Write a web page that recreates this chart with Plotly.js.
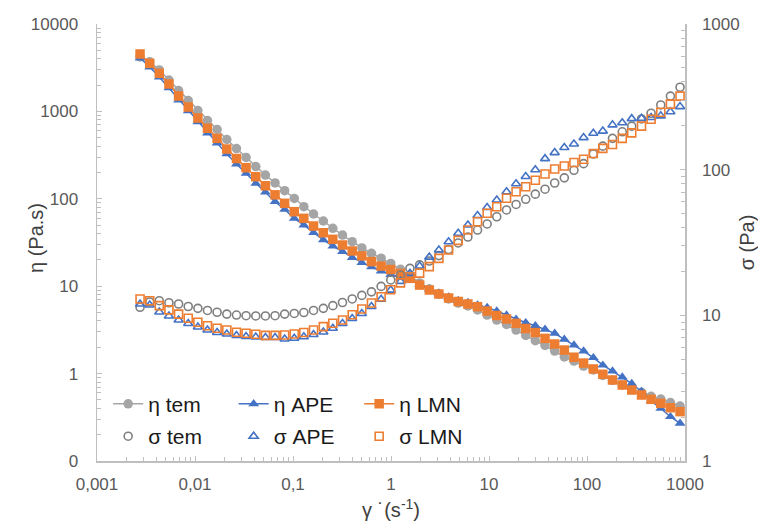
<!DOCTYPE html>
<html>
<head>
<meta charset="utf-8">
<script src="https://cdn.plot.ly/plotly-3.0.1.min.js"></script>
<style>html,body{margin:0;padding:0;background:#fff;}#chart{width:758px;height:523px;}</style>
</head>
<body>
<div id="chart"></div>
<script>
const shearRate = [0.00275,0.00345,0.00432,0.00542,0.0068,0.00853,0.0107,0.0134,0.0168,0.0211,0.0265,0.0332,0.0417,0.0523,0.0656,0.0822,0.103,0.129,0.162,0.204,0.255,0.32,0.402,0.504,0.632,0.793,0.994,1.25,1.56,1.96,2.46,3.08,3.87,4.85,6.09,7.64,9.57,12.0,15.1,18.9,23.7,29.7,37.3,46.8,58.7,73.6,92.3,116,145,182,229,286,360,451,566,710,890];

const etaTem = [4200,3700,2978,2287,1734,1333,1024,787,621,477,376,297,234,187,152,124,101,81.2,67.0,55.7,46.0,38.5,32.3,27.4,23.8,20.9,18.2,15.6,13.1,10.9,9.29,8.14,7.14,6.42,5.94,5.34,4.68,4.10,3.65,3.15,2.73,2.38,2.10,1.81,1.55,1.39,1.22,1.10,0.951,0.838,0.741,0.667,0.611,0.550,0.512,0.467,0.426];
const etaAPE = [4083,3221,2475,1853,1350,1011,757,566,435,326,250,195,150,119,92.6,75.5,59.8,50.1,40.9,33.8,28.8,24.8,21.3,18.6,16.6,14.9,13.6,12.6,11.8,10.5,9.29,8.36,7.52,6.86,6.51,6.10,5.71,5.20,4.68,4.18,3.82,3.53,3.21,2.89,2.47,2.12,1.81,1.52,1.25,1.07,0.914,0.770,0.624,0.486,0.399,0.321,0.270];
const etaLMN = [4540,3550,2730,2060,1500,1122,840,641,492,371,289,227,179,141,111,88.8,71.2,59.8,48.8,40.9,34.4,29.6,25.3,22.2,19.1,17.0,15.5,14.0,12.3,10.3,9.05,8.14,7.33,6.68,6.26,5.83,5.20,4.62,4.22,3.76,3.28,2.95,2.53,2.18,1.86,1.54,1.32,1.13,0.982,0.845,0.741,0.649,0.569,0.508,0.457,0.407,0.367];

const sigmaTem = [11.36,12.35,12.6,12.2,11.96,11.5,11.17,10.8,10.5,10.2,10.05,9.94,9.9,9.9,9.94,10.2,10.3,10.45,10.8,11.17,11.65,12.25,12.95,13.7,14.5,15.8,17.5,18.9,21.0,22.2,23.6,25.7,28.3,31.4,34.5,38.5,42.4,47.5,52.9,57.7,62.6,67.9,73.4,81.0,87.9,99.0,110,128,145,164,182,199,223,244,278,320,368];
const sigmaAPE = [11.96,11.77,10.54,9.89,9.29,8.79,8.32,7.93,7.62,7.44,7.27,7.15,7.10,7.04,7.04,6.88,6.96,7.13,7.39,7.68,8.15,8.79,9.51,10.3,11.5,12.9,14.9,17.1,19.4,21.8,25.1,28.1,32.0,36.6,41.7,48.4,55.0,61.9,70.6,80.1,89.8,99.9,119,131,142,150,166,178,184,203,210,224,225,228,234,250,271];
const sigmaLMN = [12.95,12.6,11.65,10.9,10.2,9.54,8.96,8.49,8.15,7.93,7.65,7.53,7.41,7.29,7.29,7.33,7.44,7.62,7.93,8.36,8.82,9.29,10.1,11.05,12.15,13.4,15.0,16.7,18.4,19.5,21.6,24.6,28.1,32.7,38.5,43.9,50.2,55.7,63.6,70.6,76.4,84.5,93.4,101,106,112,118,129,140,149,164,179,199,222,248,282,320];

const xTickVals = [0.001,0.01,0.1,1,10,100,1000];
const xTickText = ["0,001","0,01","0,1","1","10","100","1000"];
const yTickVals = [0.1,1,10,100,1000,10000];
const yTickText = ["0","1","10","100","1000","10000"];
const y2TickVals = [1,10,100,1000];
const y2TickText = ["1","10","100","1000"];

const GRAY = "#A5A5A5", GRAY2 = "#7F7F7F", BLUE = "#4472C4", ORANGE = "#ED7D31";
const FONT = "Liberation Sans, Arial, sans-serif";
const TITLE_FONT = {family: FONT, size: 20, color: "#404040"};

const traces = [
  {x: shearRate, y: etaTem, name: "η tem", mode: "lines+markers", yaxis: "y",
   line: {color: GRAY, width: 1.5}, marker: {symbol: "circle", size: 9.5, color: GRAY}, legend: "legend"},
  {x: shearRate, y: etaAPE, name: "η APE", mode: "lines+markers", yaxis: "y",
   line: {color: BLUE, width: 1.5}, marker: {symbol: "triangle-up", size: 9.5, color: BLUE}, legend: "legend"},
  {x: shearRate, y: etaLMN, name: "η LMN", mode: "lines+markers", yaxis: "y",
   line: {color: ORANGE, width: 1.5}, marker: {symbol: "square", size: 9.5, color: ORANGE}, legend: "legend"},
  {x: shearRate, y: sigmaTem, name: "σ tem", mode: "markers", yaxis: "y2",
   marker: {symbol: "circle-open", size: 8, color: GRAY2, line: {width: 1.6, color: GRAY2}}, legend: "legend2"},
  {x: shearRate, y: sigmaAPE, name: "σ APE", mode: "markers", yaxis: "y2",
   marker: {symbol: "triangle-up-open", size: 8, color: BLUE, line: {width: 1.6, color: BLUE}}, legend: "legend2"},
  {x: shearRate, y: sigmaLMN, name: "σ LMN", mode: "markers", yaxis: "y2",
   marker: {symbol: "square-open", size: 8, color: ORANGE, line: {width: 1.6, color: ORANGE}}, legend: "legend2"}
];

const axisCommon = {
  type: "log", showgrid: false, zeroline: false,
  showline: true, linecolor: "#BFBFBF", linewidth: 1.5,
  ticks: "inside", ticklen: 5, tickcolor: "#BFBFBF", tickwidth: 1,
  minor: {ticks: "inside", ticklen: 4, tickcolor: "#BFBFBF", tickwidth: 1, showgrid: false, dtick: "D1"},
  tickfont: {family: FONT, size: 17, color: "#595959"},
  tickmode: "array"
};

const legendCommon = {
  orientation: "h", xanchor: "left", yanchor: "middle", x: 0.019,
  bgcolor: "rgba(0,0,0,0)", borderwidth: 0,
  font: {family: FONT, size: 21, color: "#1A1A1A"},
  entrywidth: 80.5, entrywidthmode: "pixels", traceorder: "normal",
  tracegroupgap: 0
};

const layout = {
  width: 758, height: 523,
  margin: {l: 97, r: 73, t: 24, b: 62},
  paper_bgcolor: "#FFFFFF", plot_bgcolor: "#FFFFFF",
  showlegend: true,
  xaxis: Object.assign({}, axisCommon, {
    range: [-3, 3], tickvals: xTickVals, ticktext: xTickText,
    ticklabelstandoff: 7,
    title: {text: "γ ˙(s<sup>-1</sup>)", font: TITLE_FONT, standoff: 10}
  }),
  yaxis: Object.assign({}, axisCommon, {
    range: [-1, 4], tickvals: yTickVals, ticktext: yTickText,
    ticklabelstandoff: 14
  }),
  yaxis2: Object.assign({}, axisCommon, {
    range: [0, 3], tickvals: y2TickVals, ticktext: y2TickText,
    overlaying: "y", side: "right", ticklabelstandoff: 12,
    title: {text: "σ (Pa)", font: TITLE_FONT, standoff: 8}
  }),
  annotations: [
    {text: "η (Pa.s)", xref: "paper", yref: "paper", x: (36 - 97) / 588, y: (461 - 238) / 437,
     xanchor: "center", yanchor: "middle", textangle: -90, showarrow: false, font: TITLE_FONT}
  ],
  legend: Object.assign({}, legendCommon, {y: 0.13}),
  legend2: Object.assign({}, legendCommon, {y: 0.056})
};

Plotly.newPlot("chart", traces, layout, {staticPlot: true, displayModeBar: false});
</script>
</body>
</html>
